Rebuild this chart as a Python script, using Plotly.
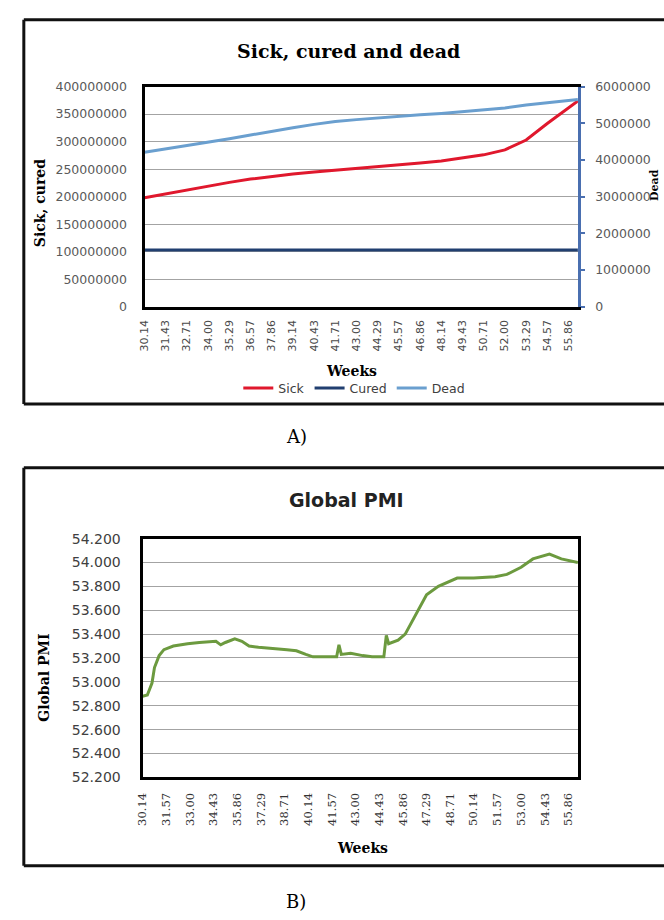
import plotly.graph_objects as go

# ---------------- Data: chart A ----------------
weeks_a_labels = ["30.14", "31.43", "32.71", "34.00", "35.29", "36.57", "37.86", "39.14",
                  "40.43", "41.71", "43.00", "44.29", "45.57", "46.86", "48.14", "49.43",
                  "50.71", "52.00", "53.29", "54.57", "55.86"]
weeks_a = [30.14, 31.43, 32.71, 34.00, 35.29, 36.57, 37.86, 39.14, 40.43, 41.71, 43.00,
           44.29, 45.57, 46.86, 48.14, 49.43, 50.71, 52.00, 53.29, 54.57, 55.86, 56.43]
sick = [198e6, 205e6, 212e6, 220e6, 226e6, 232e6, 237e6, 241e6, 245e6, 248e6, 251e6,
        254e6, 257e6, 261e6, 265e6, 270e6, 276e6, 285e6, 303e6, 333e6, 362e6, 374e6]
cured = [103e6, 103e6, 103e6, 103e6, 103e6, 103e6, 103e6, 103e6, 103e6, 103e6, 103e6,
         103e6, 103e6, 103e6, 103e6, 103e6, 103e6, 103e6, 103e6, 103e6, 103e6, 103e6]
dead = [4.21e6, 4.30e6, 4.39e6, 4.49e6, 4.58e6, 4.68e6, 4.79e6, 4.88e6, 4.97e6, 5.05e6, 5.10e6,
        5.15e6, 5.19e6, 5.23e6, 5.27e6, 5.32e6, 5.37e6, 5.42e6, 5.50e6, 5.56e6, 5.62e6, 5.65e6]

# ---------------- Data: chart B ----------------
weeks_b_labels = ["30.14", "31.57", "33.00", "34.43", "35.86", "37.29", "38.71", "40.14",
                  "41.57", "43.00", "44.43", "45.86", "47.29", "48.71", "50.14", "51.57",
                  "53.00", "54.43", "55.86"]
weeks_b = [30.14, 30.43, 30.71, 30.86, 31.14, 31.43, 32.00, 32.86, 33.57, 34.57, 34.86,
           35.14, 35.71, 36.14, 36.57, 37.14, 38.86, 39.43, 40.00, 40.43, 41.86, 42.00,
           42.14, 42.71, 43.43, 44.00, 44.71, 44.86, 45.00, 45.57, 46.00, 46.57, 47.29,
           48.00, 49.14, 50.14, 51.43, 52.14, 53.00, 53.71, 54.71, 55.43, 56.43]
pmi = [52.88, 52.89, 52.99, 53.12, 53.22, 53.27, 53.30, 53.32, 53.33, 53.34, 53.31,
       53.33, 53.36, 53.34, 53.30, 53.29, 53.27, 53.26, 53.23, 53.21, 53.21, 53.31,
       53.23, 53.24, 53.22, 53.21, 53.21, 53.39, 53.32, 53.35, 53.40, 53.55, 53.73,
       53.80, 53.87, 53.87, 53.88, 53.90, 53.96, 54.03, 54.07, 54.03, 54.00]

W, H = 664, 920


def px(x):
    return x / W


def py(y):
    return 1 - y / H


fig = go.Figure()

fig.add_trace(go.Scatter(x=weeks_a, y=sick, name="Sick", mode="lines",
                         line=dict(color="#e0182d", width=3), xaxis="x", yaxis="y"))
fig.add_trace(go.Scatter(x=weeks_a, y=cured, name="Cured", mode="lines",
                         line=dict(color="#213f70", width=3), xaxis="x", yaxis="y"))
fig.add_trace(go.Scatter(x=weeks_a, y=dead, name="Dead", mode="lines",
                         line=dict(color="#6a9fcf", width=3), xaxis="x", yaxis="y2"))
fig.add_trace(go.Scatter(x=weeks_b, y=pmi, name="Global PMI", mode="lines", showlegend=False,
                         line=dict(color="#6c9a3f", width=3), xaxis="x3", yaxis="y3"))

grid_col = "#a3a3a3"
tick_font_a = dict(family="DejaVu Sans", size=12.5, color="#5a5a5a")
xtick_font_a = dict(family="DejaVu Sans", size=11, color="#4a4a4a")

fig.update_layout(
    width=W, height=H,
    margin=dict(l=0, r=0, t=0, b=0),
    paper_bgcolor="white", plot_bgcolor="white",
    showlegend=True,
    legend=dict(orientation="h", x=px(351), y=py(387), xanchor="center", yanchor="middle",
                font=dict(family="DejaVu Sans", size=12.5, color="#404040"),
                bgcolor="rgba(0,0,0,0)", itemwidth=30, tracegroupgap=0),
    xaxis=dict(domain=[px(139), px(577)], range=[30.14, 56.43],
               tickvals=[float(t) for t in weeks_a_labels], ticktext=weeks_a_labels,
               tickangle=-90, tickfont=xtick_font_a, showgrid=False, zeroline=False,
               showline=True, linecolor="black", linewidth=3, mirror=True,
               ticks="", ticklabelstandoff=6, anchor="y"),
    yaxis=dict(domain=[py(304), py(80)], range=[0, 400e6], dtick=50e6, tickformat="d",
               tickfont=tick_font_a, showgrid=True, gridcolor=grid_col, gridwidth=1.3,
               zeroline=False, showline=True, linecolor="black", linewidth=3,
               ticks="", ticklabelstandoff=12, anchor="x"),
    yaxis2=dict(overlaying="y", side="right", range=[0, 6e6], dtick=1e6, tickformat="d",
                tickfont=tick_font_a, showgrid=False, zeroline=False,
                showline=True, linecolor="#4a6fb0", linewidth=2.5,
                ticks="outside", ticklen=4, tickcolor="#4a6fb0", tickwidth=2,
                ticklabelstandoff=8, anchor="x"),
    xaxis3=dict(domain=[px(137), px(577)], range=[30.14, 56.43],
                tickvals=[float(t) for t in weeks_b_labels], ticktext=weeks_b_labels,
                tickangle=-90, tickfont=dict(family="DejaVu Serif", size=11.5, color="#333333"),
                showgrid=False, zeroline=False, showline=True, linecolor="black",
                linewidth=3, mirror=True, ticks="", ticklabelstandoff=8, anchor="y3"),
    yaxis3=dict(domain=[py(783), py(540)], range=[52.2, 54.2], dtick=0.2, tickformat=".3f",
                tickfont=dict(family="DejaVu Sans", size=14, color="#404040"),
                showgrid=True, gridcolor=grid_col, gridwidth=1.3, zeroline=False,
                showline=True, linecolor="black", linewidth=3, mirror=True,
                ticks="", ticklabelstandoff=16, anchor="x3"),
)

frame = dict(color="#111111", width=3)
shapes = []
# chart A frame (right side runs off the picture)
shapes.append(dict(type="line", xref="paper", yref="paper", x0=px(17), x1=1.0, y0=py(12), y1=py(12), line=frame))
shapes.append(dict(type="line", xref="paper", yref="paper", x0=px(17), x1=1.0, y0=py(403), y1=py(403), line=frame))
shapes.append(dict(type="line", xref="paper", yref="paper", x0=px(17), x1=px(17), y0=py(12), y1=py(403), line=frame))
# chart B frame
shapes.append(dict(type="line", xref="paper", yref="paper", x0=px(17), x1=1.0, y0=py(468), y1=py(468), line=frame))
shapes.append(dict(type="line", xref="paper", yref="paper", x0=px(17), x1=1.0, y0=py(873), y1=py(873), line=frame))
shapes.append(dict(type="line", xref="paper", yref="paper", x0=px(17), x1=px(17), y0=py(468), y1=py(873), line=frame))
fig.update_layout(shapes=shapes)


def ann(text, x, y, size, family="DejaVu Serif", angle=0, color="black"):
    fig.add_annotation(text=text, x=px(x), y=py(y), xref="paper", yref="paper",
                       showarrow=False, xanchor="center", yanchor="middle", textangle=angle,
                       font=dict(family=family, size=size, color=color))


ann("<b>Sick, cured and dead</b>", 345, 44, 19)
ann("<b>Sick, cured</b>", 33, 199, 14, angle=-90)
ann("<b>Dead</b>", 655, 180, 11, angle=-90)
ann("<b>Weeks</b>", 348, 369, 14)
ann("A)", 293, 436, 18)
ann("<b>Global PMI</b>", 343, 501, 19, family="DejaVu Sans", color="#222222")
ann("<b>Global PMI</b>", 38, 682, 14, angle=-90)
ann("<b>Weeks</b>", 359, 855, 14)
ann("B)", 292, 909, 18)

fig.write_html("out.html", config={"displayModeBar": False},
               post_script="document.body.style.margin='0';document.body.style.overflow='hidden';")
